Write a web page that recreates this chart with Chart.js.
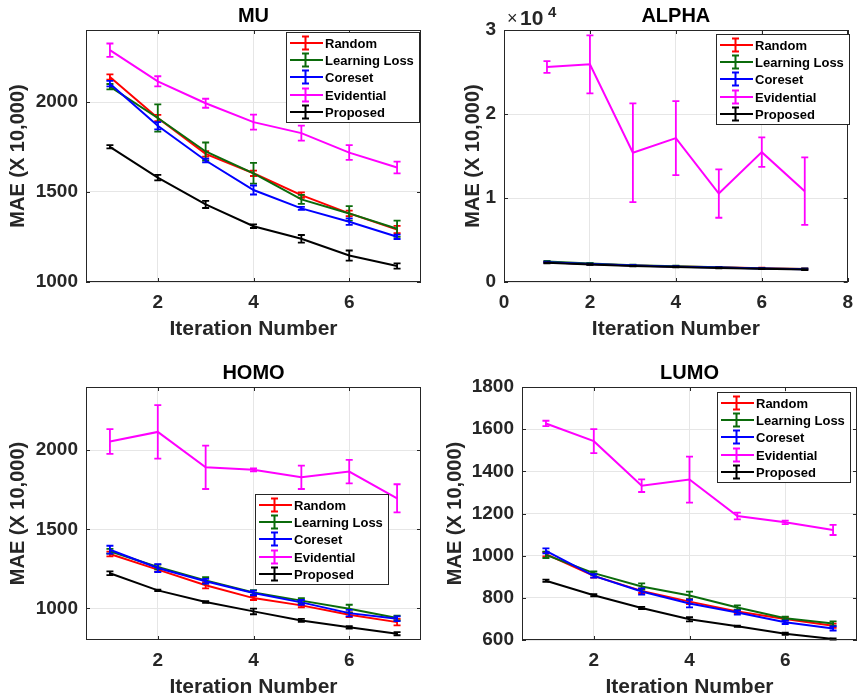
<!DOCTYPE html>
<html lang="en">
<head>
  <meta charset="UTF-8" />
  <title>MAE per iteration</title>
  <style>
    body {
      margin: 0;
      background: #fff;
    }
    #wrap {
      position: relative;
      width: 862px;
      height: 696px;
      overflow: hidden;
    }
    .panel {
      position: absolute;
      width: 431px;
      height: 348px;
    }
  </style>
  <script src="https://cdn.jsdelivr.net/npm/chart.js"></script>
</head>
<body>
  <div id="wrap">
    <div class="panel" style="left:0;top:0"><canvas id="muChart" width="431" height="348"></canvas></div>
    <div class="panel" style="left:431px;top:0"><canvas id="alphaChart" width="431" height="348"></canvas></div>
    <div class="panel" style="left:0;top:348px"><canvas id="homoChart" width="431" height="348"></canvas></div>
    <div class="panel" style="left:431px;top:348px"><canvas id="lumoChart" width="431" height="348"></canvas></div>
  </div>
  <script>
    // Iterations and series
    const iterations = [1, 2, 3, 4, 5, 6, 7];
    const seriesNames = ['Random', 'Learning Loss', 'Coreset', 'Evidential', 'Proposed'];
    const seriesColors = ['#ff0000', '#0b6b0b', '#0000ff', '#ff00ff', '#000000'];

    // MU
    const muRandom = [2139, 1911, 1712, 1604, 1483, 1381, 1292];
    const muRandomErr = [15, 18, 15, 15, 15, 15, 20];
    const muLoss = [2085, 1911, 1725, 1604, 1459, 1381, 1296];
    const muLossErr = [15, 76, 50, 58, 25, 40, 45];
    const muCoreset = [2102, 1868, 1675, 1511, 1409, 1335, 1251];
    const muCoresetErr = [15, 20, 10, 25, 8, 18, 12];
    const muEvidential = [2288, 2115, 1993, 1888, 1827, 1719, 1636];
    const muEvidentialErr = [37, 28, 25, 42, 42, 41, 33];
    const muProposed = [1751, 1580, 1431, 1310, 1240, 1147, 1089];
    const muProposedErr = [9, 15, 20, 10, 21, 28, 15];

    // ALPHA
    const alphaRandom = [2350, 2150, 1950, 1850, 1750, 1650, 1550];
    const alphaRandomErr = [60, 60, 60, 60, 60, 60, 60];
    const alphaLoss = [2450, 2200, 2000, 1880, 1750, 1620, 1560];
    const alphaLossErr = [70, 70, 60, 60, 60, 60, 60];
    const alphaCoreset = [2350, 2130, 1950, 1830, 1720, 1600, 1530];
    const alphaCoresetErr = [60, 60, 60, 60, 60, 60, 60];
    const alphaEvidential = [25590, 25910, 15380, 17130, 10530, 15460, 10810];
    const alphaEvidentialErr = [700, 3460, 5880, 4410, 2880, 1750, 4020];
    const alphaProposed = [2280, 2080, 1900, 1800, 1680, 1580, 1480];
    const alphaProposedErr = [50, 50, 50, 50, 50, 50, 50];

    // HOMO
    const homoRandom = [1344, 1245, 1146, 1065, 1019, 960, 913];
    const homoRandomErr = [15, 12, 20, 12, 12, 15, 20];
    const homoLoss = [1361, 1262, 1177, 1101, 1049, 998, 939];
    const homoLossErr = [15, 15, 20, 15, 15, 25, 15];
    const homoCoreset = [1371, 1255, 1171, 1097, 1038, 970, 935];
    const homoCoresetErr = [25, 25, 15, 15, 15, 20, 15];
    const homoEvidential = [2055, 2116, 1892, 1876, 1829, 1865, 1696];
    const homoEvidentialErr = [78, 169, 137, 10, 74, 74, 89];
    const homoProposed = [1222, 1114, 1040, 981, 924, 880, 840];
    const homoProposedErr = [12, 5, 5, 18, 10, 8, 10];

    // LUMO
    const lumoRandom = [1007, 904, 833, 782, 735, 700, 668];
    const lumoRandomErr = [10, 8, 10, 12, 8, 8, 10];
    const lumoLoss = [1004, 917, 854, 811, 754, 703, 678];
    const lumoLossErr = [15, 8, 15, 18, 10, 8, 10];
    const lumoCoreset = [1023, 904, 830, 773, 730, 684, 655];
    const lumoCoresetErr = [12, 8, 15, 18, 10, 8, 10];
    const lumoEvidential = [1627, 1543, 1332, 1361, 1188, 1158, 1122];
    const lumoEvidentialErr = [13, 57, 30, 109, 16, 8, 24];
    const lumoProposed = [881, 812, 752, 698, 665, 630, 605];
    const lumoProposedErr = [5, 5, 5, 10, 3, 5, 3];

    // Tick labels
    const iterTicks = [2, 4, 6];
    const alphaIterTicks = [0, 2, 4, 6, 8];
    const muYTicks = [1000, 1500, 2000];
    const alphaYTicks = [0, 10000, 20000, 30000];
    const homoYTicks = [1000, 1500, 2000];
    const lumoYTicks = [600, 800, 1000, 1200, 1400, 1600, 1800];

    const FONT = "'Liberation Sans', Arial, Helvetica, sans-serif";
    const AXIS = '#262626';
    const GRID = '#e6e6e6';

    // vertical error bars drawn right after each line so later series sit on top
    const errorBars = {
      id: 'errorBars',
      afterDatasetDraw(chart, args) {
        const ds = chart.data.datasets[args.index];
        const yScale = chart.scales.y;
        const ctx = chart.ctx;
        ctx.save();
        ctx.strokeStyle = ds.borderColor;
        ctx.lineWidth = 1.8;
        ctx.beginPath();
        args.meta.data.forEach((pt, i) => {
          const v = ds.data[i].y;
          const e = ds.err[i];
          const top = yScale.getPixelForValue(v + e);
          const bot = yScale.getPixelForValue(v - e);
          ctx.moveTo(pt.x, top); ctx.lineTo(pt.x, bot);
          ctx.moveTo(pt.x - 3.5, top); ctx.lineTo(pt.x + 3.5, top);
          ctx.moveTo(pt.x - 3.5, bot); ctx.lineTo(pt.x + 3.5, bot);
        });
        ctx.stroke();
        ctx.restore();
      }
    };

    function drawLegend(ctx, x, y) {
      const w = 133, h = 90;
      ctx.save();
      ctx.fillStyle = '#fff';
      ctx.fillRect(x, y, w, h);
      ctx.strokeStyle = AXIS;
      ctx.lineWidth = 1;
      ctx.strokeRect(x + 0.5, y + 0.5, w, h);
      ctx.font = 'bold 13px ' + FONT;
      ctx.textBaseline = 'middle';
      seriesNames.forEach((name, i) => {
        const cy = Math.round(y + 10.8 + i * 17.3);
        const cx = x + 19.5;
        ctx.strokeStyle = seriesColors[i];
        ctx.lineWidth = 2;
        ctx.beginPath();
        ctx.moveTo(x + 4, cy); ctx.lineTo(x + 37, cy);
        ctx.moveTo(cx, cy - 6.5); ctx.lineTo(cx, cy + 6.5);
        ctx.moveTo(cx - 3.5, cy - 6.5); ctx.lineTo(cx + 3.5, cy - 6.5);
        ctx.moveTo(cx - 3.5, cy + 6.5); ctx.lineTo(cx + 3.5, cy + 6.5);
        ctx.stroke();
        ctx.fillStyle = '#000';
        ctx.fillText(name, x + 39, cy + 1);
      });
      ctx.restore();
    }

    // box, inward ticks, titles and legend
    const frame = {
      id: 'frame',
      afterDraw(chart, args, opts) {
        const { ctx, chartArea: a } = chart;
        const xs = chart.scales.x, ys = chart.scales.y;
        ctx.save();
        ctx.strokeStyle = AXIS;
        ctx.lineWidth = 1;
        ctx.beginPath();
        xs.ticks.forEach(t => {
          const px = Math.round(xs.getPixelForValue(t.value)) + 0.5;
          ctx.moveTo(px, a.bottom); ctx.lineTo(px, a.bottom - 4);
          ctx.moveTo(px, a.top); ctx.lineTo(px, a.top + 4);
        });
        ys.ticks.forEach(t => {
          const py = Math.round(ys.getPixelForValue(t.value)) + 0.5;
          ctx.moveTo(a.left, py); ctx.lineTo(a.left + 4, py);
          ctx.moveTo(a.right, py); ctx.lineTo(a.right - 4, py);
        });
        ctx.stroke();
        ctx.strokeRect(Math.round(a.left) + 0.5, Math.round(a.top) + 0.5,
          Math.round(a.right - a.left) - 1, Math.round(a.bottom - a.top) - 1);

        const midX = (a.left + a.right) / 2;
        ctx.fillStyle = '#000';
        ctx.textAlign = 'center';
        ctx.textBaseline = 'middle';
        ctx.font = 'bold 20px ' + FONT;
        ctx.fillText(opts.title, midX, a.top - 14);

        ctx.fillStyle = AXIS;
        ctx.font = 'bold 21px ' + FONT;
        ctx.fillText('Iteration Number', midX, a.bottom + 47);

        ctx.save();
        ctx.translate(opts.yTitleX, (a.top + a.bottom) / 2);
        ctx.rotate(-Math.PI / 2);
        ctx.font = 'bold 20px ' + FONT;
        ctx.fillText('MAE (X 10,000)', 0, 0);
        ctx.restore();

        // power-of-ten multiplier above the y axis
        if (opts.exponent) {
          ctx.textAlign = 'left';
          ctx.textBaseline = 'alphabetic';
          ctx.font = '18px ' + FONT;
          ctx.fillText('\u00d7', a.left + 3, a.top - 6);
          ctx.font = 'bold 21px ' + FONT;
          ctx.fillText('10', a.left + 16, a.top - 5);
          ctx.font = 'bold 15px ' + FONT;
          ctx.fillText(opts.exponent, a.left + 44, a.top - 13);
        }
        ctx.restore();

        drawLegend(ctx, opts.legendX, opts.legendY);
      }
    };

    function makePanel(id, p) {
      const datasets = p.series.map((vals, i) => ({
        label: seriesNames[i],
        data: iterations.map((x, j) => ({ x: x, y: vals[j] })),
        err: p.errs[i],
        borderColor: seriesColors[i],
        backgroundColor: seriesColors[i],
        borderWidth: 2,
        pointRadius: 0,
        tension: 0,
        order: seriesNames.length - i
      }));
      const tickFont = { family: FONT, size: 19, weight: 'bold' };
      new Chart(document.getElementById(id), {
        type: 'line',
        data: { datasets: datasets },
        options: {
          responsive: false,
          animation: false,
          events: [],
          layout: {
            padding: { top: p.area.top, right: 431 - p.area.right, left: 0, bottom: 0 }
          },
          scales: {
            x: {
              type: 'linear',
              min: p.xMin,
              max: p.xMax,
              afterBuildTicks: s => { s.ticks = p.xTicks.map(v => ({ value: v })); },
              afterFit: s => { s.height = 348 - p.area.bottom; },
              grid: { color: GRID, drawTicks: false },
              border: { display: false },
              ticks: { font: tickFont, color: AXIS, padding: 9, maxRotation: 0 }
            },
            y: {
              type: 'linear',
              min: p.yMin,
              max: p.yMax,
              afterBuildTicks: s => { s.ticks = p.yTicks.map(v => ({ value: v })); },
              afterFit: s => { s.width = p.area.left; },
              grid: { color: GRID, drawTicks: false },
              border: { display: false },
              ticks: {
                font: tickFont,
                color: AXIS,
                padding: 8,
                callback: v => p.exponent ? String(v / 10000) : String(v)
              }
            }
          },
          plugins: {
            legend: { display: false },
            tooltip: { enabled: false },
            frame: {
              title: p.title,
              yTitleX: p.yTitleX,
              legendX: p.legendX,
              legendY: p.legendY,
              exponent: p.exponent
            }
          }
        },
        plugins: [errorBars, frame]
      });
    }

    makePanel('muChart', {
      title: 'MU',
      series: [muRandom, muLoss, muCoreset, muEvidential, muProposed],
      errs: [muRandomErr, muLossErr, muCoresetErr, muEvidentialErr, muProposedErr],
      xMin: 0.5, xMax: 7.5, xTicks: iterTicks,
      yMin: 1000, yMax: 2400, yTicks: muYTicks,
      area: { left: 86, top: 30, right: 421, bottom: 282 },
      yTitleX: 18, legendX: 286, legendY: 32
    });

    makePanel('alphaChart', {
      title: 'ALPHA',
      series: [alphaRandom, alphaLoss, alphaCoreset, alphaEvidential, alphaProposed],
      errs: [alphaRandomErr, alphaLossErr, alphaCoresetErr, alphaEvidentialErr, alphaProposedErr],
      xMin: 0, xMax: 8, xTicks: alphaIterTicks,
      yMin: 0, yMax: 30000, yTicks: alphaYTicks,
      area: { left: 73, top: 30, right: 426, bottom: 282 },
      yTitleX: 42, legendX: 285, legendY: 34, exponent: '4'
    });

    makePanel('homoChart', {
      title: 'HOMO',
      series: [homoRandom, homoLoss, homoCoreset, homoEvidential, homoProposed],
      errs: [homoRandomErr, homoLossErr, homoCoresetErr, homoEvidentialErr, homoProposedErr],
      xMin: 0.5, xMax: 7.5, xTicks: iterTicks,
      yMin: 800, yMax: 2400, yTicks: homoYTicks,
      area: { left: 86, top: 39, right: 421, bottom: 292 },
      yTitleX: 18, legendX: 255, legendY: 146
    });

    makePanel('lumoChart', {
      title: 'LUMO',
      series: [lumoRandom, lumoLoss, lumoCoreset, lumoEvidential, lumoProposed],
      errs: [lumoRandomErr, lumoLossErr, lumoCoresetErr, lumoEvidentialErr, lumoProposedErr],
      xMin: 0.5, xMax: 7.5, xTicks: iterTicks,
      yMin: 600, yMax: 1800, yTicks: lumoYTicks,
      area: { left: 91, top: 39, right: 426, bottom: 292 },
      yTitleX: 24, legendX: 286, legendY: 44
    });
  </script>
</body>
</html>
